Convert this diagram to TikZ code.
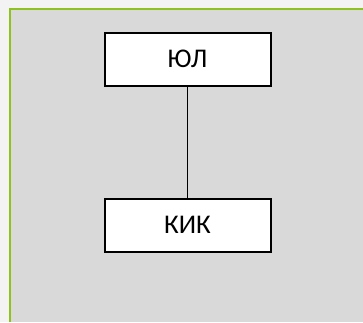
\documentclass[tikz,border=0pt]{standalone}
\usepackage{fontspec}
\setmainfont{Carlito}
\usetikzlibrary{positioning}

\definecolor{panelgray}{HTML}{D9D9D9}
\definecolor{pagegray}{HTML}{F3F3F3}
\definecolor{framegreen}{HTML}{8DC21F}

\begin{document}
\begin{tikzpicture}[
  x=1pt, y=-1pt,
  font=\fontsize{27}{32}\selectfont,
  unit/.style={draw, line width=2pt, fill=white, minimum width=166pt, minimum height=53pt, inner sep=0pt},
  link/.style={line width=1.2pt}
]
\useasboundingbox (0,0) rectangle (363,322);
\fill[pagegray] (0,0) rectangle (363,322);
\fill[panelgray] (10,9) rectangle (363,322);
\draw[framegreen, line width=2.5pt] (10,322) -- (10,9) -- (363,9);
\node[unit] (jl) at (187.5,59) {ЮЛ};
\node[unit, below=111pt of jl] (kik) {КИК};
\draw[link] (jl) -- (kik);
\end{tikzpicture}
\end{document}
